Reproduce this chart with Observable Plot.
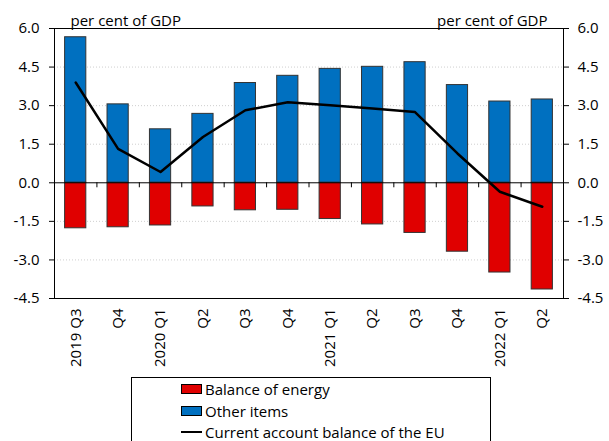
<!DOCTYPE html>
<html>
<head>
<meta charset="utf-8">
<script src="https://cdn.jsdelivr.net/npm/d3@7"></script>
<script src="https://cdn.jsdelivr.net/npm/@observablehq/plot@0.6"></script>
<style>
  html, body { margin: 0; padding: 0; background: #fff; }
  body { width: 609px; height: 441px; overflow: hidden; position: relative; font-family: "Open Sans", sans-serif; }
  #chart { position: absolute; left: 0; top: 0; }
  #legend { position: absolute; left: 131px; top: 377px; width: 360px; height: 90px; border: 1px solid #000; border-bottom: none; box-sizing: border-box; }
  .item { position: absolute; left: 49px; height: 18px; line-height: 18px; display: flex; align-items: center; font-size: 15px; color: #000; white-space: nowrap; }
  .sw { width: 19px; height: 8px; border: 1px solid #000; margin-right: 3px; }
  .ln { width: 21px; height: 0; border-top: 2.5px solid #000; margin-right: 3px; }
</style>
</head>
<body>
<div id="chart"></div>
<div id="legend"></div>
<script>
const quarters = ["2019 Q3", "Q4", "2020 Q1", "Q2", "Q3", "Q4", "2021 Q1", "Q2", "Q3", "Q4", "2022 Q1", "Q2"];
const otherItems = [5.66, 3.05, 2.08, 2.68, 3.88, 4.16, 4.43, 4.51, 4.69, 3.80, 3.16, 3.24];
const energyBalance = [-1.77, -1.73, -1.66, -0.92, -1.07, -1.05, -1.41, -1.62, -1.95, -2.68, -3.49, -4.15];
const currentAccount = [3.90, 1.32, 0.42, 1.78, 2.82, 3.13, 3.02, 2.89, 2.75, 1.14, -0.35, -0.93];
const yTicks = [-4.5, -3.0, -1.5, 0.0, 1.5, 3.0, 4.5, 6.0];
const unitLabel = "per cent of GDP";
const seriesNames = ["Balance of energy", "Other items", "Current account balance of the EU"];
const colors = {energy: "#E00000", other: "#0070C0", line: "#000000"};

const data = quarters.map((q, i) => ({i, q, other: otherItems[i], energy: energyBalance[i], ca: currentAccount[i]}));
const boundaries = d3.range(quarters.length + 1).map(k => k - 0.5);
const fmt = d => d.toFixed(1);
const font = "Open Sans, sans-serif";

const chart = Plot.plot({
  width: 609,
  height: 372,
  marginTop: 28,
  marginBottom: 74,
  marginLeft: 54,
  marginRight: 46,
  style: {fontFamily: font, fontSize: "15px", color: "#000", background: "#fff"},
  x: {type: "linear", domain: [-0.5, quarters.length - 0.5]},
  y: {domain: [-4.5, 6.0]},
  marks: [
    Plot.ruleY(yTicks.filter(v => v !== 0 && v !== 6.0 && v !== -4.5), {stroke: "#cfcfcf", strokeDasharray: "1,2"}),
    Plot.rectY(data, {x1: d => d.i - 0.25, x2: d => d.i + 0.25, y: "other", fill: colors.other, stroke: "#333", strokeWidth: 1}),
    Plot.rectY(data, {x1: d => d.i - 0.25, x2: d => d.i + 0.25, y: "energy", fill: colors.energy, stroke: "#333", strokeWidth: 1}),
    Plot.ruleY([0], {stroke: "#000", strokeWidth: 1}),
    Plot.ruleX(boundaries.slice(1, -1), {y1: 0, y2: 0, insetBottom: -5, stroke: "#000"}),
    Plot.line(data, {x: "i", y: "ca", stroke: colors.line, strokeWidth: 2.5}),
    Plot.frame({stroke: "#000"}),
    Plot.axisY({anchor: "left", ticks: yTicks, tickFormat: fmt, tickSize: 5, tickPadding: 10, label: null, fontSize: 15}),
    Plot.axisY({anchor: "right", ticks: yTicks, tickFormat: fmt, tickSize: 5, tickPadding: 9, label: null, fontSize: 15}),
    Plot.axisX({anchor: "bottom", ticks: d3.range(quarters.length), tickFormat: i => quarters[i], tickSize: 0, tickPadding: 10, tickRotate: -90, label: null, fontSize: 15}),
    Plot.text([unitLabel], {frameAnchor: "top-left", textAnchor: "start", lineAnchor: "bottom", dx: 16, dy: -3, fontSize: 15, fill: "#000"}),
    Plot.text([unitLabel], {frameAnchor: "top-right", textAnchor: "end", lineAnchor: "bottom", dx: -16, dy: -3, fontSize: 15, fill: "#000"})
  ]
});
document.getElementById("chart").appendChild(chart);

const legend = document.getElementById("legend");
const items = [
  {name: seriesNames[0], cls: "sw", color: colors.energy},
  {name: seriesNames[1], cls: "sw", color: colors.other},
  {name: seriesNames[2], cls: "ln", color: colors.line}
];
items.forEach((it, k) => {
  const row = document.createElement("div");
  row.className = "item";
  row.style.top = (2 + k * 21.5) + "px";
  const sw = document.createElement("span");
  sw.className = it.cls;
  if (it.cls === "sw") sw.style.background = it.color;
  const label = document.createElement("span");
  label.textContent = it.name;
  row.appendChild(sw);
  row.appendChild(label);
  legend.appendChild(row);
});
</script>
</body>
</html>
